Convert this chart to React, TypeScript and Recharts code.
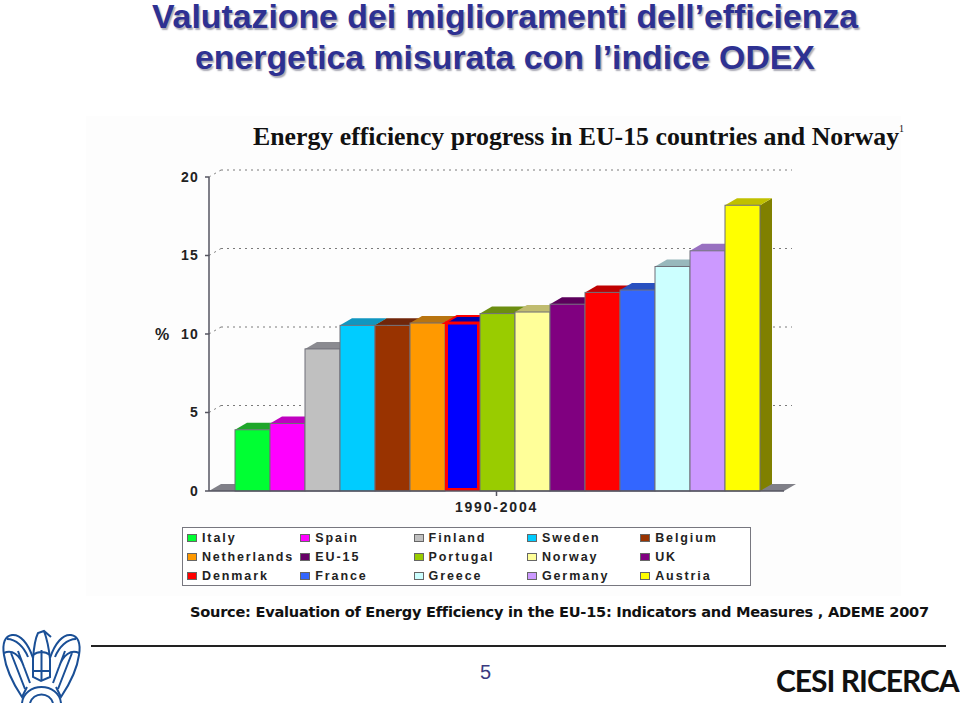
import { BarChart, Bar, XAxis, YAxis, CartesianGrid, Legend } from 'recharts'

const countries = [
  'Italy', 'Spain', 'Finland', 'Sweden', 'Belgium',
  'Netherlands', 'EU-15', 'Portugal', 'Norway', 'UK',
  'Denmark', 'France', 'Greece', 'Germany', 'Austria',
]
const progress = [3.9, 4.3, 9.05, 10.55, 10.55, 10.7, 10.7, 11.3, 11.4, 11.9, 12.65, 12.8, 14.3, 15.3, 18.2]
const periods = ['1990-2004']
const yTicks = [0, 5, 10, 15, 20]

const legendColors = [
  '#00ff33', '#ff00ff', '#c0c0c0', '#00ccff', '#993300',
  '#ff9900', '#660066', '#99cc00', '#ffff99', '#800080',
  '#ff0000', '#3366ff', '#ccffff', '#cc99ff', '#ffff00',
]
const topColors = [
  '#1fa62a', '#c000c0', '#8a8a90', '#1096c0', '#70260a',
  '#b87410', '#0000b0', '#6c8e10', '#c0bc70', '#5c005c',
  '#c00000', '#2850c0', '#98b8bc', '#9870c0', '#c0c000',
]

const rows = periods.map((period) => {
  const row: Record<string, string | number> = { period }
  countries.forEach((c, i) => {
    row[c] = progress[i]
  })
  return row
})

const DX = 12
const DY = 7

const titleLine = {
  position: 'absolute',
  left: 0,
  width: 1010,
  textAlign: 'center',
  fontFamily: 'Liberation Sans',
  fontWeight: 700,
  fontSize: 33.8,
  lineHeight: '33px',
  color: '#2e3192',
  textShadow: '1.5px 1.5px 1.5px #a9a9b4',
} as const

function Bar3D(props: any) {
  const { x, y, width, height, seriesIndex: i } = props
  const isEu = countries[i] === 'EU-15'
  return (
    <g>
      <polygon
        points={`${x + width},${y} ${x + width + DX},${y - DY} ${x + width + DX},${y + height - DY} ${x + width},${y + height}`}
        fill="#808000"
      />
      <polygon
        points={`${x},${y} ${x + DX},${y - DY} ${x + width + DX},${y - DY} ${x + width},${y}`}
        fill={topColors[i]}
        stroke={isEu ? '#ff0000' : 'none'}
        strokeWidth={isEu ? 2 : 0}
      />
      {isEu ? (
        <rect x={x + 1.5} y={y} width={width - 3} height={height - 1.5} fill="#0000ff" stroke="#ff0000" strokeWidth={3} />
      ) : (
        <rect x={x} y={y} width={width} height={height} fill={legendColors[i]} stroke="#6e6e78" strokeWidth={1} />
      )}
    </g>
  )
}

function GridBack(props: any) {
  const { x1, x2, y1 } = props
  if (y1 > 480) {
    return (
      <g>
        <polygon points={`${x1},${y1} ${x1 + DX},${y1 - DY} ${x1 + 27},${y1 - DY} ${x1 + 27},${y1} `} fill="#808088" />
        <polygon points={`${x2 - 26},${y1} ${x2 - 14},${y1 - DY} ${x2 + DX},${y1 - DY} ${x2},${y1}`} fill="#808088" />
      </g>
    )
  }
  return (
    <g stroke="#7a7a7a" strokeWidth={1} strokeDasharray="2 4" fill="none">
      <line x1={x1} y1={y1} x2={x1 + DX} y2={y1 - DY} />
      <line x1={x1 + DX} y1={y1 - DY} x2={x2 + 8} y2={y1 - DY} />
    </g>
  )
}

function CountryLegend({ payload }: any) {
  return (
    <div
      style={{
        width: 569,
        height: 59,
        boxSizing: 'border-box',
        border: '1.5px solid #77777f',
        position: 'relative',
        background: '#fff',
      }}
    >
      {(payload ?? []).map((item: any, i: number) => (
        <div
          key={item.value}
          style={{
            position: 'absolute',
            left: 4 + (i % 5) * 113.3,
            top: 1 + Math.floor(i / 5) * 18.9,
            height: 18,
            display: 'flex',
            alignItems: 'center',
            fontFamily: 'Liberation Sans',
            fontWeight: 700,
            fontSize: 12.5,
            letterSpacing: i === 5 ? 1.8 : 1.9,
            color: '#222',
            whiteSpace: 'nowrap',
          }}
        >
          <span
            style={{
              width: 8,
              height: 6,
              marginRight: 5,
              background: legendColors[i],
              border: '1px solid #666',
              display: 'inline-block',
            }}
          />
          {item.value}
        </div>
      ))}
    </div>
  )
}

export default function App() {
  return (
    <div
      style={{
        position: 'absolute',
        left: 0,
        top: 0,
        width: 960,
        height: 707,
        overflow: 'hidden',
        background: '#fff',
      }}
    >
      <div
        style={{
          position: 'absolute',
          left: 86,
          top: 116,
          width: 815,
          height: 480,
          background: '#fdfdfd',
        }}
      />
      <BarChart
        width={960}
        height={707}
        data={rows}
        margin={{ top: 177, right: 176, bottom: 127, left: 169 }}
        barCategoryGap={26}
        barGap={0}
        style={{ position: 'absolute', left: 0, top: 0 }}
      >
        <CartesianGrid vertical={false} horizontal={(p: any) => <GridBack {...p} />} />
        <XAxis
          dataKey="period"
          height={30}
          stroke="#555560"
          strokeWidth={1.5}
          tick={{ fontFamily: 'Liberation Sans', fontWeight: 700, fontSize: 14, letterSpacing: 1.8, fill: '#222' }}
          tickSize={5}
          tickMargin={6}
        />
        <YAxis
          width={40}
          domain={[0, 20]}
          ticks={yTicks}
          stroke="#555560"
          strokeWidth={1.5}
          tick={{ fontFamily: 'Liberation Sans', fontWeight: 700, fontSize: 14, letterSpacing: 1.2, fill: '#222' }}
          tickSize={4}
          tickMargin={6}
          label={{
            value: '%',
            position: 'insideLeft',
            offset: -14,
            style: { fontFamily: 'Liberation Sans', fontWeight: 700, fontSize: 16, fill: '#222' },
          }}
        />
        <Legend
          content={<CountryLegend />}
          itemSorter={null}
          layout="horizontal"
          wrapperStyle={{ position: 'absolute', left: 182, top: 527, width: 569, height: 59, bottom: 'auto' }}
        />
        {countries.map((c, i) => (
          <Bar
            key={c}
            dataKey={c}
            fill={legendColors[i]}
            isAnimationActive={false}
            shape={(p: any) => <Bar3D {...p} seriesIndex={i} />}
          />
        ))}
      </BarChart>

      <div style={{ ...titleLine, top: 0 }}>Valutazione dei miglioramenti dell’efficienza</div>
      <div style={{ ...titleLine, top: 41 }}>energetica misurata con l’indice ODEX</div>

      <div
        style={{
          position: 'absolute',
          left: 253,
          top: 122,
          fontFamily: 'Liberation Serif',
          fontWeight: 700,
          fontSize: 25.8,
          lineHeight: '30px',
          color: '#111',
          whiteSpace: 'nowrap',
        }}
      >
        Energy efficiency progress in EU-15 countries and Norway
        <sup style={{ fontSize: 10, fontWeight: 400, verticalAlign: 'top', lineHeight: '14px' }}>1</sup>
      </div>

      <div
        style={{
          position: 'absolute',
          left: 190,
          top: 601,
          fontFamily: 'DejaVu Sans',
          fontWeight: 700,
          fontSize: 14.6,
          lineHeight: '22px',
          letterSpacing: -0.26,
          color: '#111',
          whiteSpace: 'nowrap',
        }}
      >
        Source: Evaluation of Energy Efficiency in the EU-15: Indicators and Measures , ADEME 2007
      </div>

      <div style={{ position: 'absolute', left: 91, top: 645, width: 855, height: 1.5, background: '#222' }} />

      <div
        style={{
          position: 'absolute',
          left: 480,
          top: 660,
          fontFamily: 'Liberation Sans',
          fontSize: 20,
          lineHeight: '24px',
          color: '#3a3a80',
        }}
      >
        5
      </div>

      <div
        style={{
          position: 'absolute',
          left: 776,
          top: 662,
          fontFamily: 'Lato',
          fontWeight: 700,
          fontSize: 30,
          lineHeight: '36px',
          letterSpacing: -1,
          color: '#111',
          whiteSpace: 'nowrap',
        }}
      >
        CESI RICERCA
      </div>

      <svg
        width={90}
        height={78}
        viewBox="0 0 90 78"
        style={{ position: 'absolute', left: 0, top: 625 }}
        fill="none"
        stroke="#1a4f96"
        strokeWidth={2}
      >
        <path d="M33 33 C28 18 20 9 12 10 C5 11 2 18 4 30 C6 45 14 60 22 72 L27 62" />
        <path d="M7 14 C16 14 24 22 28 32 M4 28 C12 24 20 30 24 42 M11 28 L25 64 M18 26 L30 58" />
        <path d="M50 33 C55 18 63 9 71 10 C78 11 81 18 79 30 C77 45 69 60 61 72 L56 62" />
        <path d="M76 14 C67 14 59 22 55 32 M79 28 C71 24 63 30 59 42 M72 28 L58 64 M65 26 L53 58" />
        <path d="M33 34 L33 52 L41 56 L50 52 L50 34 M33 34 C34 20 36 12 38 8 L44 6 L51 12 M44 6 C47 14 49 24 50 34" />
        <path d="M41.5 25 L41.5 55 M33 30 C38 26 45 26 50 30 M33 46 L50 46" />
        <path d="M22 78 C23 68 32 62 41.5 62 C51 62 60 68 61 78 M30 78 A12 12 0 0 1 53 78" />
      </svg>
    </div>
  )
}
